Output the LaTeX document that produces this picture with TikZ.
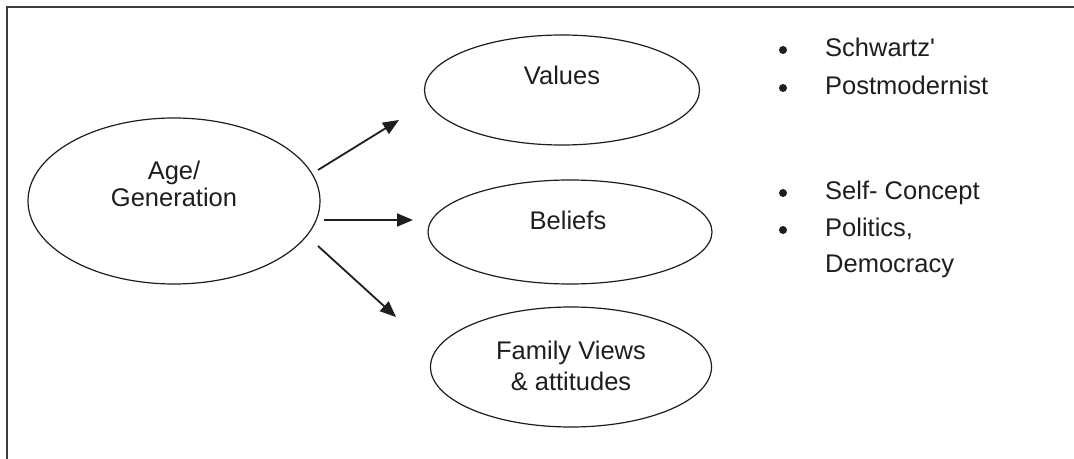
\documentclass[tikz,border=0pt]{standalone}
\usepackage{fontspec}
\setmainfont{Liberation Sans}
\usetikzlibrary{shapes.geometric,arrows.meta}
\definecolor{ink}{HTML}{1E1E1E}
\definecolor{framegrey}{HTML}{3C3C3C}
\begin{document}
\begin{tikzpicture}[x=1bp,y=-1bp,
  oval/.style={draw=ink,line width=1.2bp,ellipse,inner sep=0pt},
  lbl/.style={text=ink,inner sep=0pt,font=\fontsize{25.5bp}{30bp}\selectfont},
  item/.style={lbl,anchor=base west},
  dot/.style={circle,fill=ink,inner sep=0pt,minimum size=8bp},
  link/.style={draw=ink,line width=1.8bp,-{Triangle[length=16bp,width=13bp]}}]
  \useasboundingbox (0,0) rectangle (1074,459);
  \fill[white] (0,0) rectangle (1074,459);

  % frame (top and left edges)
  \draw[framegrey,line width=2.4bp] (7,459) -- (7,7) -- (1074,7);

  % ovals
  \node[oval,minimum width=292bp,minimum height=166bp] (age) at (174,201) {};
  \node[oval,minimum width=275bp,minimum height=110bp] (values) at (562,90) {};
  \node[oval,minimum width=284bp,minimum height=104bp] (beliefs) at (570,232) {};
  \node[oval,minimum width=281bp,minimum height=120bp] (family) at (571,367) {};

  % oval captions
  \node[lbl,align=center,font=\fontsize{25.5bp}{27bp}\selectfont] (agetext) at (174,184) {Age/\\Generation};
  \node[lbl,anchor=base] (valuestext) at (562,85) {Values};
  \node[lbl,anchor=base] (beliefstext) at (568,230) {Beliefs};
  \node[lbl,align=center,font=\fontsize{25.5bp}{31bp}\selectfont] (familytext) at (571,366) {Family Views\\\& attitudes};

  % arrows out of the age oval
  \coordinate (s1) at (318,170); \coordinate (e1) at (399,120);
  \coordinate (s2) at (324,220); \coordinate (e2) at (413,220);
  \coordinate (s3) at (318,246); \coordinate (e3) at (396,317);
  \draw[link] (s1) -- (e1);
  \draw[link] (s2) -- (e2);
  \draw[link] (s3) -- (e3);

  % bullet lists
  \node[dot] (b1) at (783,50) {};
  \node[item] (t1) at (825,57) {Schwartz\textquotesingle};
  \node[dot] (b2) at (783,88) {};
  \node[item] (t2) at (825,95) {Postmodernist};
  \node[dot] (b3) at (783,193) {};
  \node[item] (t3) at (825,200) {Self- Concept};
  \node[dot] (b4) at (783,230) {};
  \node[item] (t4) at (825,237) {Politics,};
  \node[item] (t5) at (825,273) {Democracy};
\end{tikzpicture}
\end{document}
